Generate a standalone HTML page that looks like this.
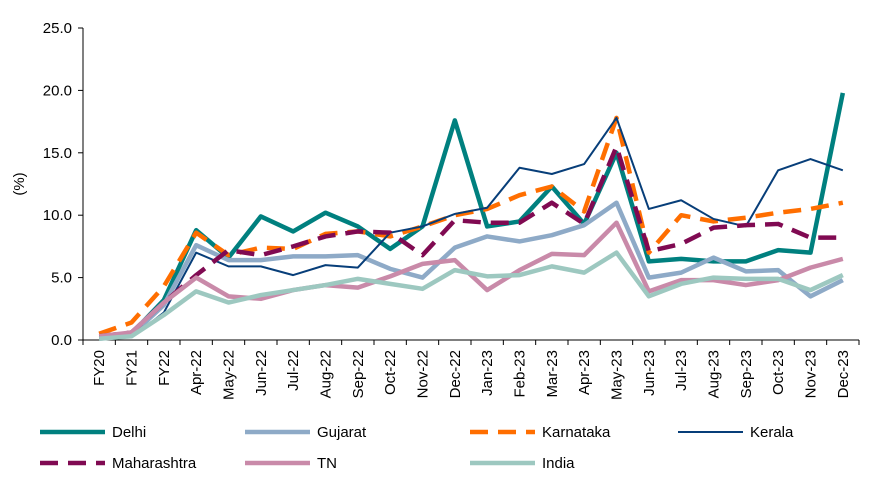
<!DOCTYPE html>
<html><head><meta charset="utf-8"><style>
body{margin:0;background:#fff;font-family:"Liberation Sans",Arial,sans-serif}
svg text{font-family:"Liberation Sans",Arial,sans-serif;font-size:15px;fill:#000}
</style></head><body>
<svg id="chart" width="885" height="485">
<g id="axes"></g><g id="series"></g><g id="legend"></g>
</svg>
<script>
const categories=["FY20","FY21","FY22","Apr-22","May-22","Jun-22","Jul-22","Aug-22","Sep-22","Oct-22","Nov-22","Dec-22","Jan-23","Feb-23","Mar-23","Apr-23","May-23","Jun-23","Jul-23","Aug-23","Sep-23","Oct-23","Nov-23","Dec-23"];
const yTicks=[0,5,10,15,20,25];
const delhi=[0.3,0.5,3.2,8.8,6.6,9.9,8.7,10.2,9.1,7.3,9.1,17.6,9.1,9.5,12.3,9.3,15.0,6.3,6.5,6.3,6.3,7.2,7.0,19.8];
const gujarat=[0.1,0.4,2.8,7.6,6.4,6.4,6.7,6.7,6.8,5.7,5.0,7.4,8.3,7.9,8.4,9.2,11.0,5.0,5.4,6.6,5.5,5.6,3.5,4.8];
const karnataka=[0.5,1.4,4.3,8.6,6.8,7.4,7.3,8.5,8.7,8.3,9.1,10.0,10.5,11.6,12.3,10.3,17.8,7.0,10.0,9.5,9.8,10.2,10.5,11.0];
const kerala=[0.2,0.2,2.2,7.0,5.9,5.9,5.2,6.0,5.8,8.6,9.1,10.1,10.6,13.8,13.3,14.1,17.8,10.5,11.2,9.7,9.1,13.6,14.5,13.6];
const maharashtra=[0.3,0.6,3.0,5.2,7.2,6.8,7.5,8.3,8.7,8.6,6.8,9.6,9.4,9.4,11.0,9.3,15.5,7.1,7.7,9.0,9.2,9.3,8.2,8.2];
const tn=[0.3,0.6,3.0,5.0,3.5,3.3,4.0,4.4,4.2,5.1,6.1,6.4,4.0,5.6,6.9,6.8,9.4,3.9,4.8,4.8,4.4,4.8,5.8,6.5];
const india=[0.1,0.3,2.0,3.9,3.0,3.6,4.0,4.4,4.9,4.5,4.1,5.6,5.1,5.2,5.9,5.4,7.0,3.5,4.5,5.0,4.9,4.9,4.0,5.2];
const seriesDefs=[
 {name:"Delhi",data:delhi,color:"#00807f",w:4.5,dash:"",key:"delhi"},
 {name:"Gujarat",data:gujarat,color:"#8eaac7",w:4.5,dash:"",key:"gujarat"},
 {name:"Karnataka",data:karnataka,color:"#ff6e00",w:4.5,dash:"18,10",key:"karnataka"},
 {name:"Kerala",data:kerala,color:"#073e79",w:2,dash:"",key:"kerala"},
 {name:"Maharashtra",data:maharashtra,color:"#800a52",w:4.5,dash:"18,10",key:"maharashtra"},
 {name:"TN",data:tn,color:"#c98aa9",w:4.5,dash:"",key:"tn"},
 {name:"India",data:india,color:"#9dc8c0",w:4.5,dash:"",key:"india"}];
const NS="http://www.w3.org/2000/svg";
const L=83,R=859,T=28,B=340,yMax=25;
const step=(R-L)/categories.length;
const x=i=>L+step*(i+0.5);
const y=v=>B-(v/yMax)*(B-T);
function mk(tag,attrs,parent){const e=document.createElementNS(NS,tag);for(const k in attrs)e.setAttribute(k,attrs[k]);parent.appendChild(e);return e;}
const axes=document.getElementById('axes');
let e=mk('line',{x1:L,y1:T,x2:L,y2:B,stroke:"#000","stroke-width":1},axes);


e=mk('line',{x1:L,y1:B,x2:R,y2:B,stroke:"#000","stroke-width":1},axes);


yTicks.forEach(t=>{
 mk('line',{x1:L-5,y1:y(t),x2:L,y2:y(t),stroke:"#000"},axes);
 const tx=mk('text',{x:L-11,y:y(t)+5,"text-anchor":"end"},axes);tx.textContent=t.toFixed(1);
 
 
});
for(let i=0;i<=categories.length;i++)mk('line',{x1:L+step*i,y1:B,x2:L+step*i,y2:B+5,stroke:"#000"},axes);
categories.forEach((c,i)=>{
 const tx=mk('text',{x:x(i)+5,y:B+10,"text-anchor":"end",transform:`rotate(-90 ${x(i)+5} ${B+10})`},axes);tx.textContent=c;
 
 
});
const yt=mk('text',{x:24,y:184,"text-anchor":"middle",transform:"rotate(-90 24 184)"},axes);yt.textContent="(%)";


const sg=document.getElementById('series');
seriesDefs.forEach(s=>{
 const p=mk('polyline',{points:s.data.map((v,i)=>x(i)+","+y(v)).join(" "),fill:"none",stroke:s.color,"stroke-width":s.w,"stroke-dasharray":s.dash,"stroke-linejoin":"round"},sg);
 
 
});
const lg=document.getElementById('legend');
const pos=[[40,432],[245,432],[470,432],[678,432],[40,463],[245,463],[470,463]];
seriesDefs.forEach((s,i)=>{
 const [lx,ly]=pos[i];
 const g=mk('g',{},lg);
 
 
 mk('line',{x1:lx,y1:ly,x2:lx+65,y2:ly,stroke:s.color,"stroke-width":s.w,"stroke-dasharray":s.dash},g);
 const t=mk('text',{x:lx+72,y:ly+5},g);t.textContent=s.name;
});
</script>
</body></html>
